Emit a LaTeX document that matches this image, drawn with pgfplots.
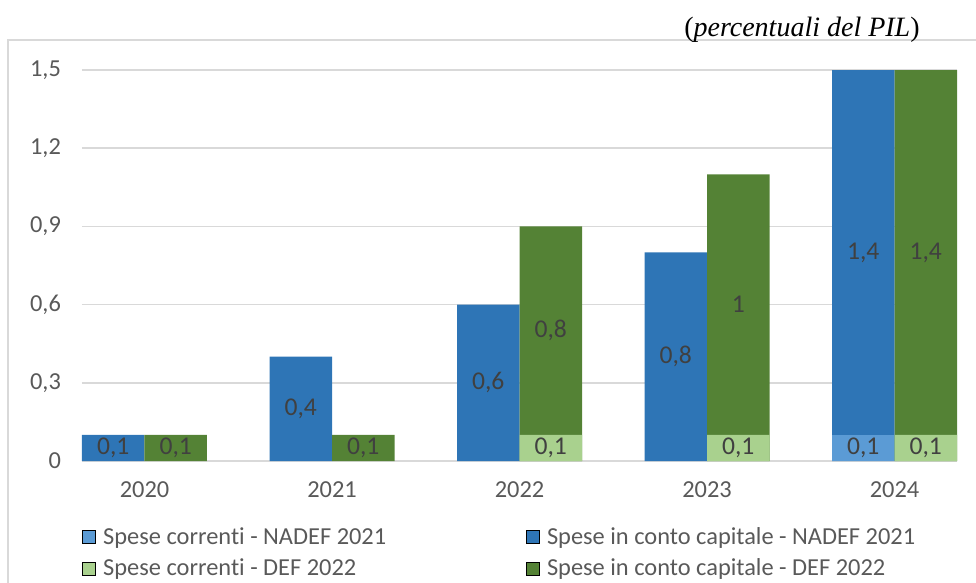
\documentclass[border=0pt]{standalone}
\usepackage{pgfplots}
\pgfplotsset{compat=1.18}
\usepackage{fontspec}
\setmainfont{Carlito}[Ligatures=NoCommon]
\newfontfamily\timesfont{Liberation Serif}

\definecolor{cNcap}{HTML}{2E75B6}
\definecolor{cNcor}{HTML}{5B9BD5}
\definecolor{cDcap}{HTML}{548235}
\definecolor{cDcor}{HTML}{A9D18E}
\definecolor{cGrid}{HTML}{D9D9D9}
\definecolor{cTxt}{HTML}{595959}
\definecolor{cLab}{HTML}{404040}

\pgfplotsset{
  sqleg/.style={legend image code/.code={\fill[##1] (0pt,-3.25pt) rectangle (6.5pt,3.25pt);}},
  barN/.style={ybar, bar width=31.25pt, bar shift=-15.625pt, draw=none, forget plot},
  barD/.style={ybar, bar width=31.25pt, bar shift=15.625pt, draw=none, forget plot},
}

% label positions: x = year index -/+ 1/6, y = middle of the segment
\pgfplotstableread{
x        y     lab
-0.1667  0.05  0,1
0.8333   0.2   0,4
1.8333   0.3   0,6
2.8333   0.4   0,8
3.8333   0.05  0,1
3.8333   0.8   1,4
0.1667   0.05  0,1
1.1667   0.05  0,1
2.1667   0.05  0,1
2.1667   0.5   0,8
3.1667   0.05  0,1
3.1667   0.6   1
4.1667   0.05  0,1
4.1667   0.8   1,4
}\labels

\begin{document}
\begin{tikzpicture}[x=1pt,y=1pt]
\useasboundingbox (0,0) rectangle (488,-291.5);
\draw[cGrid, line width=0.75pt] (4,-20) rectangle (520,-320);
\node[anchor=east, font=\timesfont\fontsize{14}{16}\selectfont, inner sep=0pt] at (460,-15)
  {(\textit{percentuali del PIL})};
\begin{axis}[
  at={(41pt,-230.5pt)}, anchor=south west,
  scale only axis, width=437.5pt, height=195.5pt,
  xmin=-0.33333, xmax=4.33333, ymin=0, ymax=1.5,
  xtick={0,1,2,3,4}, xticklabels={2020,2021,2022,2023,2024},
  ytick={0,0.3,0.6,0.9,1.2,1.5},
  yticklabels={0,{0,3},{0,6},{0,9},{1,2},{1,5}},
  axis line style={draw=none}, major tick length=0pt,
  ymajorgrids, grid style={cGrid, line width=0.75pt},
  tick label style={font=\fontsize{12.2}{14}\selectfont, text=cTxt},
  yticklabel style={xshift=-7pt},
  xticklabel style={yshift=-7pt},
  legend columns=2, legend cell align=left,
  legend style={at={(axis description cs:0,0)}, anchor=north west, yshift=-31pt,
    draw=none, fill=none, inner sep=0pt, text=cTxt,
    font=\fontsize{12.2}{14}\selectfont,
    nodes={inner xsep=0pt, inner ysep=2pt},
    column sep=0pt, row sep=1.8pt,
    /tikz/every odd column/.append style={column sep=3.5pt},
    /tikz/every even column/.append style={column sep=70pt}},
]
\addplot[barN, fill=cNcap] coordinates {(0,0.1) (1,0.4) (2,0.6) (3,0.8) (4,1.5)};
\addplot[barN, fill=cNcor] coordinates {(4,0.1)};
\addplot[barD, fill=cDcap] coordinates {(0,0.1) (1,0.1) (2,0.9) (3,1.1) (4,1.5)};
\addplot[barD, fill=cDcor] coordinates {(2,0.1) (3,0.1) (4,0.1)};

\addplot[draw=none, mark=none, forget plot, nodes near coords,
  point meta=explicit symbolic,
  nodes near coords style={anchor=center, text=cLab, font=\fontsize{12.8}{14}\selectfont}]
  table[x=x, y=y, meta=lab] {\labels};

\addlegendimage{sqleg, fill=cNcor}
\addlegendentry{Spese correnti - NADEF 2021}
\addlegendimage{sqleg, fill=cNcap}
\addlegendentry{Spese in conto capitale - NADEF 2021}
\addlegendimage{sqleg, fill=cDcor}
\addlegendentry{Spese correnti - DEF 2022}
\addlegendimage{sqleg, fill=cDcap}
\addlegendentry{Spese in conto capitale - DEF 2022}
\end{axis}
\end{tikzpicture}
\end{document}
